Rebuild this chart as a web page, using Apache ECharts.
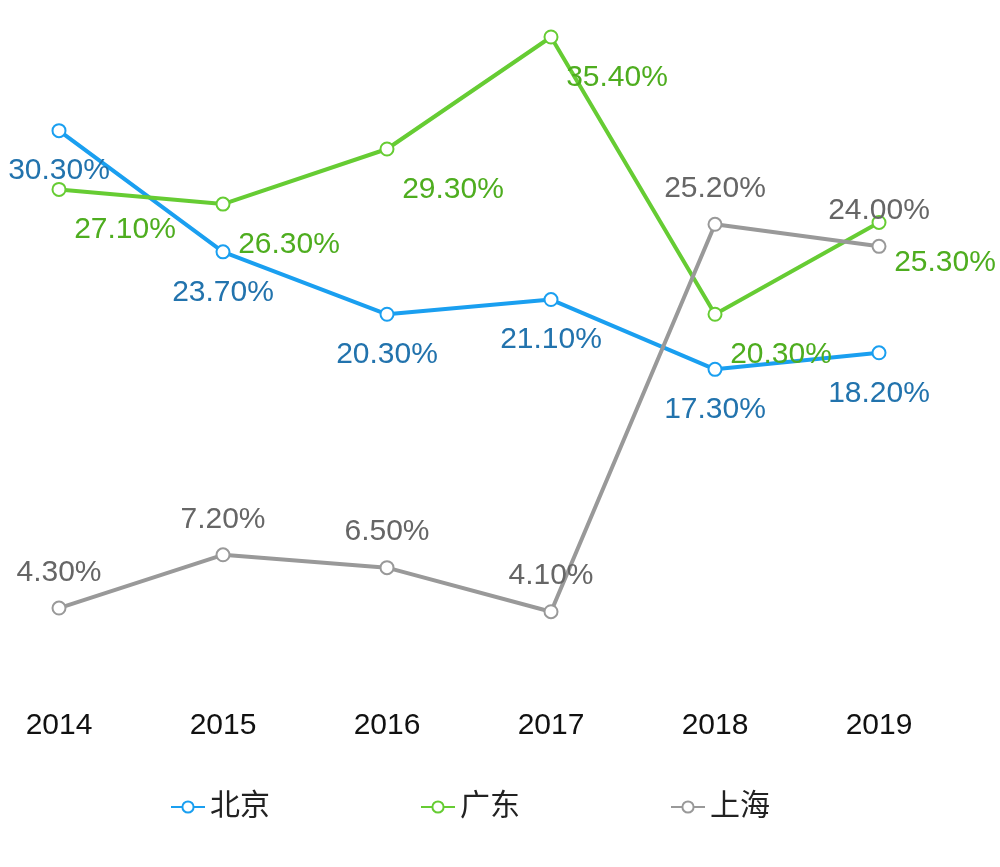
<!DOCTYPE html>
<html>
<head>
<meta charset="utf-8">
<script src="https://cdn.jsdelivr.net/npm/echarts@6/dist/echarts.min.js"></script>
<style>html,body{margin:0;padding:0;background:#fff}#chart{width:1000px;height:867px}</style>
</head>
<body>
<div id="chart"></div>
<script>
var years = ["2014", "2015", "2016", "2017", "2018", "2019"];
var beijing = [30.3, 23.7, 20.3, 21.1, 17.3, 18.2];
var guangdong = [27.1, 26.3, 29.3, 35.4, 20.3, 25.3];
var shanghai = [4.3, 7.2, 6.5, 4.1, 25.2, 24.0];

var font = "Helvetica, Arial, 'Liberation Sans', 'Noto Sans CJK SC', sans-serif";

function mkSeries(name, data, lineColor, labelColor, label) {
  return {
    name: name,
    type: "line",
    data: data,
    symbol: "emptyCircle",
    symbolSize: 13,
    lineStyle: { width: 4, color: lineColor },
    itemStyle: { color: lineColor, borderWidth: 4 },
    label: Object.assign({
      show: true,
      fontSize: 30,
      fontFamily: font,
      color: labelColor,
      formatter: function (p) { return p.value.toFixed(2) + "%"; }
    }, label)
  };
}

var myChart = echarts.init(document.getElementById("chart"));
var option = {
  animation: false,
  grid: { left: 59, right: 121, top: 37, bottom: 180 },
  legend: {
    bottom: 40,
    left: 165,
    itemGap: 150,
    itemWidth: 34,
    itemHeight: 14,
    textStyle: { fontSize: 30, color: "#222", fontFamily: font },
    data: ["北京", "广东", "上海"]
  },
  xAxis: {
    type: "category",
    data: years,
    boundaryGap: false,
    axisLine: { show: false },
    axisTick: { show: false },
    axisLabel: { fontSize: 30, color: "#111", margin: 24, fontFamily: font }
  },
  yAxis: {
    type: "value",
    min: 0,
    max: 35.4,
    show: false
  },
  series: [
    mkSeries("北京", beijing, "#1a9ff0", "#2273ad", { position: "bottom", distance: 18 }),
    mkSeries("广东", guangdong, "#66cc33", "#4ead1f", { position: "bottom", distance: 18, offset: [66, 0] }),
    mkSeries("上海", shanghai, "#999999", "#666666", { position: "top", distance: 13 })
  ]
};
myChart.setOption(option);
</script>
</body>
</html>
